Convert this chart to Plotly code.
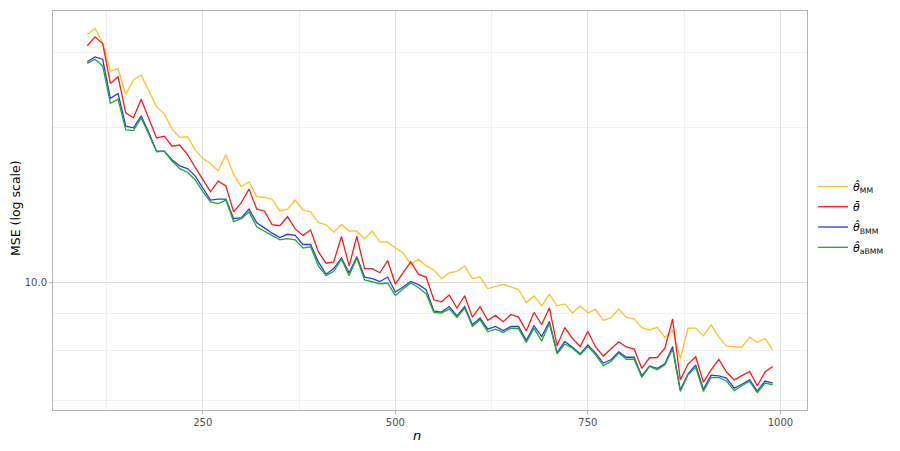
import plotly.graph_objects as go

n = list(range(100, 1000, 10))

mse_mm = [51.8, 53.8, 49.0, 40.6, 41.2, 34.8, 38.3, 39.5, 35.6, 32.1,
          30.6, 27.7, 26.2, 26.3, 24.1, 22.8, 22.0, 21.0, 23.4, 20.5,
          18.9, 19.5, 17.7, 17.6, 17.4, 16.1, 16.3, 17.3, 16.2, 16.0,
          14.9, 14.7, 14.0, 14.7, 14.1, 14.1, 13.4, 14.1, 13.1, 13.1,
          12.6, 12.2, 11.3, 11.7, 11.2, 10.9, 10.3, 10.7, 10.8, 11.2,
          10.3, 10.4, 9.64, 9.76, 9.91, 9.75, 9.57, 8.79, 9.18, 8.60,
          9.27, 8.60, 8.71, 8.20, 8.59, 8.20, 8.40, 7.81, 7.95, 8.42,
          7.96, 7.89, 7.44, 7.33, 7.46, 6.97, 7.31, 6.07, 7.42, 7.42,
          7.05, 7.59, 6.99, 6.60, 6.55, 6.55, 6.99, 6.76, 6.92, 6.43]

mse_bar = [48.0, 50.9, 48.7, 37.4, 39.1, 30.8, 29.8, 33.7, 29.6, 26.1,
           26.4, 24.7, 24.9, 23.4, 21.5, 19.8, 18.3, 19.6, 19.0, 16.0,
           17.0, 18.6, 16.3, 16.1, 14.7, 14.6, 15.5, 14.3, 13.7, 14.2,
           12.3, 11.4, 11.5, 13.6, 11.2, 13.6, 11.0, 11.0, 10.7, 11.6,
           9.93, 10.7, 11.5, 10.6, 10.4, 8.95, 8.83, 9.24, 8.47, 9.19,
           7.98, 8.55, 7.81, 8.07, 7.74, 8.12, 7.98, 7.28, 8.23, 7.60,
           8.48, 6.60, 7.45, 6.93, 6.57, 7.26, 6.55, 6.17, 6.46, 6.78,
           6.55, 6.46, 5.69, 6.10, 6.11, 6.50, 7.89, 5.27, 5.85, 6.14,
           5.19, 5.63, 6.03, 5.55, 5.27, 5.41, 5.57, 5.07, 5.55, 5.76]

mse_bmm = [43.2, 44.6, 43.9, 33.9, 35.0, 28.2, 27.9, 30.2, 27.0, 23.9,
           23.9, 22.6, 21.7, 21.3, 20.3, 18.8, 17.3, 17.4, 17.4, 15.3,
           15.4, 16.3, 14.9, 14.4, 13.9, 13.5, 13.8, 13.7, 12.9, 12.9,
           11.5, 10.6, 11.0, 11.8, 10.7, 11.9, 10.4, 10.3, 10.1, 10.4,
           9.42, 9.74, 10.1, 9.89, 9.57, 8.31, 8.25, 8.56, 8.05, 8.56,
           7.59, 7.93, 7.37, 7.50, 7.30, 7.50, 7.50, 6.84, 7.54, 7.02,
           7.75, 6.31, 6.79, 6.54, 6.26, 6.64, 6.29, 5.89, 6.02, 6.34,
           6.12, 6.12, 5.41, 5.78, 5.69, 5.86, 6.57, 4.93, 5.48, 5.82,
           4.95, 5.44, 5.41, 5.33, 4.99, 5.12, 5.27, 4.89, 5.23, 5.16]

mse_abmm = [42.7, 43.9, 42.0, 32.8, 33.7, 27.5, 27.4, 29.8, 26.7, 23.8,
            23.9, 22.4, 21.3, 20.8, 19.8, 18.3, 17.1, 16.9, 17.3, 15.0,
            15.3, 16.0, 14.5, 14.1, 13.7, 13.3, 13.4, 13.3, 12.6, 12.7,
            11.2, 10.5, 10.8, 11.7, 10.5, 11.8, 10.2, 10.1, 9.95, 10.0,
            9.21, 9.61, 10.0, 9.71, 9.32, 8.23, 8.20, 8.43, 7.96, 8.47,
            7.50, 7.84, 7.24, 7.37, 7.21, 7.42, 7.39, 6.75, 7.42, 6.81,
            7.65, 6.26, 6.68, 6.50, 6.22, 6.57, 6.22, 5.79, 5.95, 6.29,
            6.04, 6.04, 5.36, 5.76, 5.63, 5.82, 6.46, 4.88, 5.45, 5.73,
            4.88, 5.36, 5.35, 5.23, 4.91, 5.07, 5.22, 4.84, 5.16, 5.10]

series_names = ["<i>θ̂</i><sub>MM</sub>", "<i>θ̄</i>",
                "<i>θ̂</i><sub>BMM</sub>", "<i>θ̂</i><sub>aBMM</sub>"]
series_colors = ["#FFC125", "#FF1A1A", "#2B3FDB", "#1FAA2A"]

x_ticks = [250, 500, 750, 1000]
x_minor = [125, 375, 625, 875]
y_ticks = [10]
y_ticktext = ["10.0"]
y_minor = [2.8, 4.6, 6.4, 8.2, 28, 46, 64, 82]

fig = go.Figure()
for i, (name, vals, col) in enumerate(zip(series_names, [mse_mm, mse_bar, mse_bmm, mse_abmm], series_colors)):
    fig.add_trace(go.Scatter(x=n, y=vals, mode="lines", name=name, legendgroup=f"g{i}",
                             line=dict(color=col, width=1.3)))

axis_common = dict(showline=True, linecolor="#b3b3b3", linewidth=1, mirror=True,
                   ticks="outside", ticklen=3, tickcolor="#b3b3b3",
                   tickfont=dict(family="DejaVu Sans", size=10, color="#4d4d4d"),
                   showgrid=True, gridcolor="#dedede", gridwidth=1, zeroline=False,
                   automargin=False)

# page body adds an 8px offset; figure is sized 892x443 so the panel lands where the reference has it
fig.update_layout(
    width=892, height=443,
    margin=dict(l=45, r=93, t=3, b=41),
    paper_bgcolor="white", plot_bgcolor="white",
    font=dict(family="DejaVu Sans", color="black"),
    xaxis=dict(range=[55.5, 1034.5], tickmode="array", tickvals=x_ticks,
               minor=dict(tickvals=x_minor, showgrid=True, gridcolor="#f0f0f0", gridwidth=1, ticks=""),
               **axis_common),
    yaxis=dict(type="log", range=[0.6353, 1.781], tickmode="array", tickvals=y_ticks,
               ticktext=y_ticktext,
               minor=dict(tickvals=y_minor, showgrid=True, gridcolor="#f0f0f0", gridwidth=1, ticks=""),
               **axis_common),
    legend=dict(xref="container", yref="container", x=0.9025, y=0.63,
                xanchor="left", yanchor="top", font=dict(size=11),
                bgcolor="rgba(0,0,0,0)", itemwidth=30, tracegroupgap=1.3),
    annotations=[
        dict(text="<i>n</i>", xref="paper", yref="paper", x=0.483, y=0, yshift=-25,
             xanchor="center", yanchor="middle", showarrow=False, font=dict(size=13)),
        dict(text="MSE (log scale)", xref="paper", yref="paper", x=0, xshift=-37.5, y=0.505,
             xanchor="center", yanchor="middle", textangle=-90, showarrow=False,
             font=dict(size=12.5)),
    ],
)

fig.write_html("out.html")
